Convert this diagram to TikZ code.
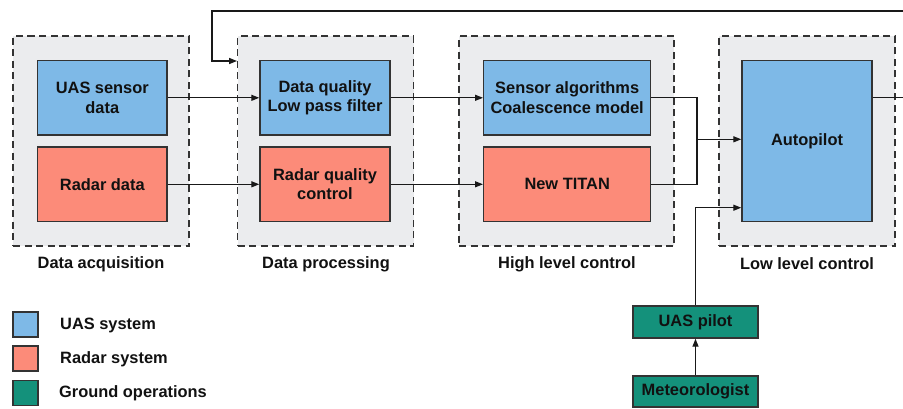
\documentclass[tikz,border=0pt]{standalone}
\usepackage{fontspec}
\setmainfont{Liberation Sans}
\usetikzlibrary{arrows.meta}
\definecolor{uasblue}{HTML}{7EB9E7}
\definecolor{radarred}{HTML}{FC8B79}
\definecolor{groundteal}{HTML}{14917B}
\definecolor{groupgray}{HTML}{EBECEE}
\definecolor{edgegray}{HTML}{333333}
\definecolor{txt}{HTML}{111111}
\tikzset{
  every node/.style={font=\fontsize{16.4}{19.5}\selectfont\bfseries, text=txt},
  groupbox/.style={draw=edgegray, fill=groupgray, line width=1.4pt, dash pattern=on 7pt off 4.5pt, rectangle, inner sep=0pt},
  blk/.style={draw=edgegray, line width=1.4pt, rectangle, align=center, inner sep=0pt},
  uas/.style={blk, fill=uasblue},
  radar/.style={blk, fill=radarred},
  ground/.style={blk, fill=groundteal},
  conn/.style={draw=black!90, line width=1.3pt},
  arr/.style={conn, -{Triangle[length=8pt,width=6pt]}},
  grouplabel/.style={anchor=center},
  legendbox/.style={draw=edgegray, line width=1.2pt, minimum width=25pt, minimum height=25pt, inner sep=0pt},
}
\begin{document}
\begin{tikzpicture}[x=1pt,y=-1pt]
\useasboundingbox (0,0) rectangle (903,408);
% groups
\node[groupbox, minimum width=176pt, minimum height=210pt] (g1) at (101,141) {};
\node[groupbox, minimum width=176pt, minimum height=210pt] (g2) at (325.75,141) {};
\node[groupbox, minimum width=215pt, minimum height=210pt] (g3) at (566.5,141) {};
\node[groupbox, minimum width=176pt, minimum height=210pt] (g4) at (807,141) {};
\node[grouplabel] (l1) at (101,264) {Data acquisition};
\node[grouplabel] (l2) at (326,264) {Data processing};
\node[grouplabel] (l3) at (567,264) {High level control};
\node[grouplabel] (l4) at (807,264) {Low level control};
% blocks
\node[uas, minimum width=129.5pt, minimum height=74.5pt] (usd) at (102.3,97.8) {UAS sensor\\data};
\node[radar, minimum width=129.5pt, minimum height=74.5pt] (rd) at (102.3,184.3) {Radar data};
\node[uas, minimum width=130pt, minimum height=74.5pt] (dq) at (325,97.8) {Data quality\\Low pass filter};
\node[radar, minimum width=130pt, minimum height=74.5pt] (rqc) at (325,184.3) {Radar quality\\control};
\node[uas, minimum width=167pt, minimum height=74.5pt] (sa) at (567.2,97.8) {Sensor algorithms\\Coalescence model};
\node[radar, minimum width=167pt, minimum height=74.5pt] (nt) at (567.2,184.3) {New TITAN};
\node[uas, minimum width=130pt, minimum height=161.5pt] (ap) at (807,141) {Autopilot};
\node[ground, minimum width=125pt, minimum height=32pt] (pilot) at (695.5,322) {UAS pilot};
\node[ground, minimum width=125pt, minimum height=31pt] (met) at (695.5,391.5) {Meteorologist};
% connectors
\draw[arr] (usd.east) -- (dq.west);
\draw[arr] (rd.east) -- (rqc.west);
\draw[arr] (dq.east) -- (sa.west);
\draw[arr] (rqc.east) -- (nt.west);
\coordinate (m) at (697,139.3);
\draw[conn] (sa.east) -| (m);
\draw[conn] (nt.east) -| (m);
\draw[arr] (m) -- (ap.west |- m);
\coordinate (pj) at (pilot.north |- 0,207.7);
\draw[arr] (pilot.north) -- (pj) -- (ap.west |- pj);
\draw[arr] (met.north) -- (pilot.south);
\coordinate (fr) at (906,97.8);
\coordinate (ft) at (906,11);
\coordinate (fl) at (212,11);
\coordinate (fd) at (212,61);
\draw[arr] (ap.east |- fr) -- (fr) -- (ft) -- (fl) -- (fd) -- (g2.west |- fd);
% legend
\node[legendbox, fill=uasblue] (k1) at (25.5,324.5) {};
\node[legendbox, fill=radarred] (k2) at (25.5,358.5) {};
\node[legendbox, fill=groundteal] (k3) at (25.5,393) {};
\node[anchor=west, inner sep=0pt] (t1) at (60,325) {UAS system};
\node[anchor=west, inner sep=0pt] (t2) at (60,359) {Radar system};
\node[anchor=west, inner sep=0pt] (t3) at (59,393) {Ground operations};
\end{tikzpicture}
\end{document}
